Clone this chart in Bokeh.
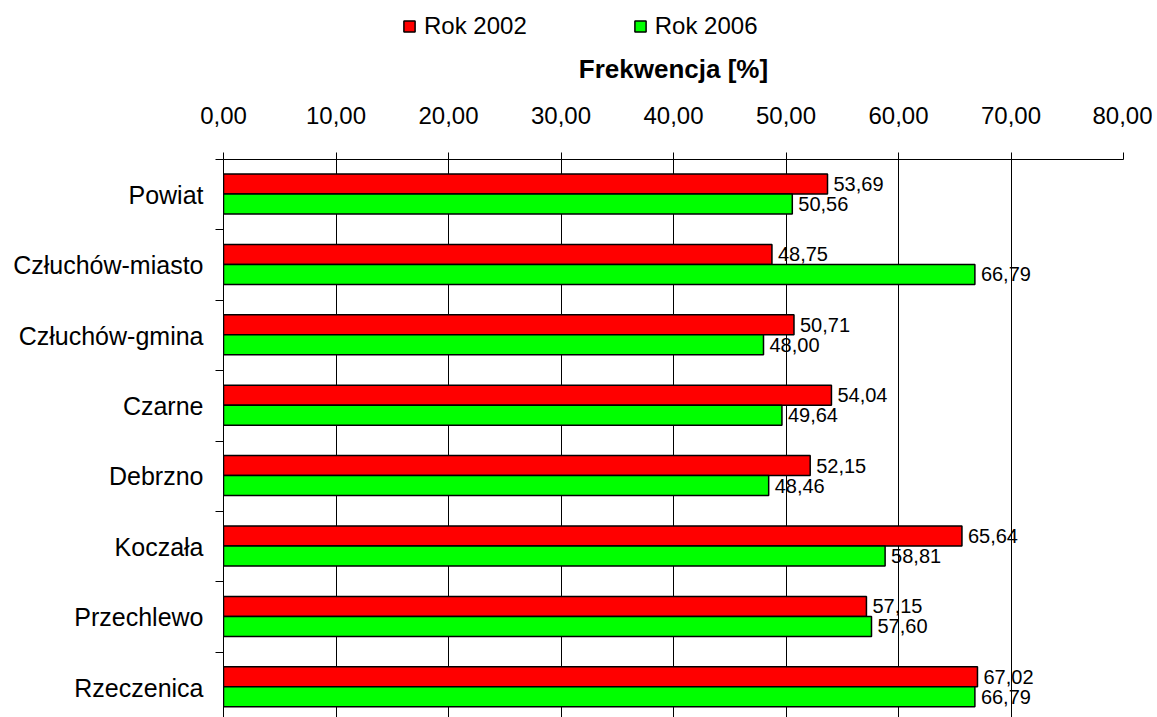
from bokeh.plotting import figure
from bokeh.layouts import column
from bokeh.models import (Range1d, FixedTicker, ColumnDataSource, LabelSet, Grid, Legend)
from bokeh.core.properties import value
from bokeh.embed import file_html
from bokeh.resources import INLINE

# ---- data ----
categories = ["Powiat", "Człuchów-miasto", "Człuchów-gmina", "Czarne",
              "Debrzno", "Koczała", "Przechlewo", "Rzeczenica"]
rok_2002 = [53.69, 48.75, 50.71, 54.04, 52.15, 65.64, 57.15, 67.02]
rok_2006 = [50.56, 66.79, 48.00, 49.64, 48.46, 58.81, 57.60, 66.79]
series_names = ["Rok 2002", "Rok 2006"]
series_colors = ["#FF0000", "#00FF00"]
x_ticks = [0, 10, 20, 30, 40, 50, 60, 70, 80]
x_tick_labels = ["0,00", "10,00", "20,00", "30,00", "40,00", "50,00", "60,00", "70,00", "80,00"]
axis_title = "Frekwencja [%]"

FONT = "Liberation Sans"
n = len(categories)
band_px = 70.4
frame_h = 558
W = 1152
LEG_H = 48

def fmt(v):
    return f"{v:.2f}".replace(".", ",")

red_y = [i + 0.348 for i in range(n)]
green_y = [i + 0.632 for i in range(n)]
src_r = ColumnDataSource(dict(y=red_y, x=rok_2002, t=[fmt(v) for v in rok_2002]))
src_g = ColumnDataSource(dict(y=green_y, x=rok_2006, t=[fmt(v) for v in rok_2006]))

p = figure(width=W, height=717 - LEG_H,
           x_range=Range1d(x_ticks[0], x_ticks[-1]),
           y_range=Range1d(start=frame_h / band_px, end=0),
           x_axis_location="above",
           output_backend="svg", toolbar_location=None,
           min_border_left=223, min_border_right=W - 223 - 900,
           min_border_top=159 - LEG_H, min_border_bottom=0)
p.outline_line_color = None
p.background_fill_color = "white"

bar_kw = dict(left=0, height=0.284, line_color="black", line_width=1.5)
p.hbar(y="y", right="x", source=src_r, fill_color=series_colors[0], **bar_kw)
p.hbar(y="y", right="x", source=src_g, fill_color=series_colors[1], **bar_kw)

# value labels
for src in (src_r, src_g):
    p.add_layout(LabelSet(x="x", y="y", text="t", source=src, x_offset=6,
                          text_baseline="middle", text_font=value(FONT),
                          text_font_size="20px", text_color="black"))

# x axis (top)
xa = p.xaxis[0]
xa.ticker = FixedTicker(ticks=x_ticks)
xa.major_label_overrides = dict(zip(x_ticks, x_tick_labels))
xa.major_label_text_font = FONT
xa.major_label_text_font_size = "24px"
xa.major_label_text_color = "black"
xa.major_tick_out = 7
xa.major_tick_in = 0
xa.major_tick_line_color = "black"
xa.axis_line_color = "black"
xa.major_label_standoff = 29
xa.axis_label = axis_title
xa.axis_label_text_font = FONT
xa.axis_label_text_font_size = "26px"
xa.axis_label_text_font_style = "bold"
xa.axis_label_text_color = "black"
xa.axis_label_standoff = 20

# y axis (left)
centers = [i + 0.5 for i in range(n)]
bounds = [float(i) for i in range(n + 1)]
ya = p.yaxis[0]
ya.ticker = FixedTicker(ticks=centers, minor_ticks=bounds)
ya.major_label_overrides = dict(zip(centers, categories))
ya.major_label_text_font = FONT
ya.major_label_text_font_size = "25px"
ya.major_label_text_color = "black"
ya.major_tick_out = 0
ya.major_tick_in = 0
ya.minor_tick_out = 8
ya.minor_tick_in = 0
ya.minor_tick_line_color = "black"
ya.axis_line_color = "black"
ya.major_label_standoff = 12

# grids
p.ygrid.visible = False
p.xgrid.ticker = FixedTicker(ticks=x_ticks[1:-1])
p.xgrid.grid_line_color = "black"
p.xgrid.grid_line_width = 1
p.add_layout(Grid(dimension=0, ticker=FixedTicker(ticks=x_ticks[-1:]),
                  grid_line_color="#808080", grid_line_width=2))

# legend strip on top (hidden copies of the bar renderers provide the swatches)
lg = figure(width=W, height=LEG_H, x_range=Range1d(x_ticks[0], x_ticks[-1]),
            y_range=Range1d(0, 1),
            x_axis_type=None, y_axis_type=None,
            output_backend="svg", toolbar_location=None,
            min_border=0)
lg.outline_line_color = None
lg.grid.visible = False
lr1 = lg.hbar(y="y", right="x", source=src_r, fill_color=series_colors[0], visible=False, **bar_kw)
lr2 = lg.hbar(y="y", right="x", source=src_g, fill_color=series_colors[1], visible=False, **bar_kw)
legend = Legend(items=[(series_names[0], [lr1]), (series_names[1], [lr2])],
                orientation="horizontal", location=(179, 8),
                label_text_font=FONT, label_text_font_size="24px",
                label_text_color="black", label_height=20,
                glyph_height=14, glyph_width=14, label_standoff=8,
                spacing=106, padding=0, margin=0,
                inactive_fill_alpha=0,
                border_line_color=None, background_fill_alpha=0)
lg.add_layout(legend)

layout = column(lg, p, spacing=0)
open("out.html", "w").write(file_html(layout, INLINE))
